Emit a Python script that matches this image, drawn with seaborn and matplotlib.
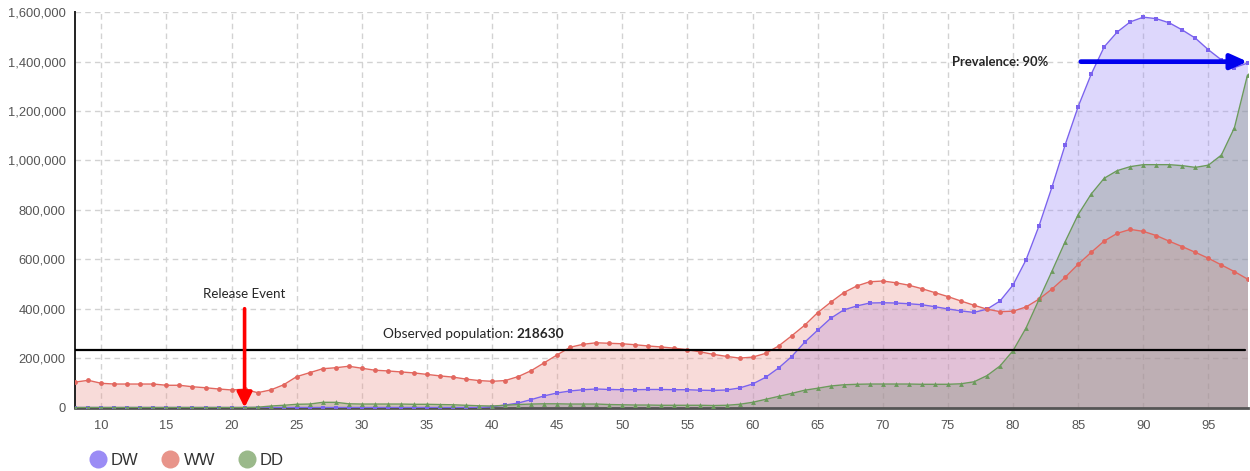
import matplotlib
matplotlib.use("Agg")
import matplotlib.pyplot as plt
import seaborn as sns
import pandas as pd
from matplotlib.lines import Line2D
from matplotlib.ticker import FuncFormatter, MultipleLocator

# x axis: days
days = list(range(8, 99))

dw = [0] * 32 + [
    3000, 10000, 18000, 32000, 47000, 59000, 67000, 72000, 75000, 73000,
    72000, 72000, 73000, 73000, 72000, 72000, 70000, 69000, 71000, 79000,
    95000, 122000, 160000, 206000, 264000, 313000, 361000, 395000, 411000, 423000,
    424000, 423000, 420000, 416000, 408000, 399000, 391000, 385000, 398000, 431000,
    496000, 598000, 736000, 894000, 1063000, 1218000, 1349000, 1460000, 1520000, 1561000,
    1580000, 1574000, 1557000, 1528000, 1495000, 1448000, 1407000, 1376000, 1394000,
]

ww = [
    103000, 110000, 98000, 95000, 95000, 95000, 95000, 90000, 90000, 84000,
    80000, 75000, 71000, 74000, 60000, 71000, 92000, 125000, 141000, 157000,
    161000, 167000, 159000, 151000, 148000, 144000, 140000, 134000, 128000, 123000,
    115000, 109000, 106000, 109000, 125000, 149000, 181000, 213000, 244000, 256000,
    262000, 260000, 258000, 254000, 249000, 245000, 240000, 234000, 225000, 215000,
    207000, 200000, 204000, 219000, 249000, 290000, 333000, 384000, 426000, 465000,
    492000, 509000, 512000, 505000, 495000, 481000, 465000, 449000, 431000, 414000,
    398000, 388000, 390000, 407000, 439000, 480000, 527000, 580000, 628000, 674000,
    705000, 721000, 713000, 696000, 673000, 651000, 628000, 604000, 577000, 550000,
    520000,
]

dd = [0] * 14 + [
    1000, 6000, 9000, 13000, 14000, 21000, 21000, 15000, 14000, 14000,
    14000, 14000, 13000, 13000, 12000, 11000, 9000, 7000, 6000, 9000,
    12000, 14000, 15000, 15000, 14000, 14000, 14000, 12000, 11000, 10000,
    10000, 9000, 9000, 9000, 9000, 8000, 9000, 13000, 21000, 33000,
    45000, 57000, 70000, 78000, 87000, 92000, 94000, 95000, 95000, 95000,
    95000, 94000, 94000, 94000, 96000, 104000, 129000, 168000, 230000, 322000,
    438000, 553000, 671000, 781000, 864000, 928000, 959000, 975000, 983000, 983000,
    983000, 979000, 972000, 981000, 1022000, 1133000, 1346000,
]

series_names = ["DW", "WW", "DD"]
observed_label = "218630"
observed_line_y = 233000
release_day = 21
prevalence_label = "Prevalence: 90%"
prevalence_y = 1400000
prevalence_start = 85.2

sns.set_style("white")
plt.rcParams["font.family"] = ["Liberation Sans", "DejaVu Sans"]

fig = plt.figure(figsize=(12.5, 4.71), dpi=100)
ax = fig.add_axes([0.0602, 0.1348, 0.9378, 0.8392])

styles = {
    "DW": dict(line="#7b63ee", fill="#9d8cf7", alpha=0.34, marker="s", legend="#9b8cf5"),
    "WW": dict(line="#e2675f", fill="#ec9a92", alpha=0.35, marker="o", legend="#e8948a"),
    "DD": dict(line="#6c9a5c", fill="#7d8f74", alpha=0.35, marker="^", legend="#9ab98a"),
}

for name, vals in zip(series_names, [dw, ww, dd]):
    st = styles[name]
    df = pd.DataFrame({"day": days, "count": vals})
    ax.fill_between(df["day"], 0, df["count"], color=st["fill"], alpha=st["alpha"], lw=0, zorder=1)
    sns.lineplot(data=df, x="day", y="count", ax=ax, color=st["line"], lw=1,
                 marker=st["marker"], markersize=3.5, markeredgewidth=0, zorder=3)

ax.set_xlim(8, 98)
ax.set_ylim(0, 1600000)
ax.yaxis.set_major_locator(MultipleLocator(200000))
ax.set_xticks(range(10, 98, 5))
ax.yaxis.set_major_formatter(FuncFormatter(lambda v, p: f"{int(v):,}"))
ax.set_xlabel("")
ax.set_ylabel("")
ax.grid(True, ls=(0, (4, 3)), color="#d2d2d2", lw=1)
ax.set_axisbelow(True)
for s in ["top", "right"]:
    ax.spines[s].set_visible(False)
ax.spines["left"].set_color("#222222")
ax.spines["left"].set_linewidth(1.4)
ax.spines["bottom"].set_color("#555555")
ax.spines["bottom"].set_linewidth(2)
ax.tick_params(axis="y", length=4, width=1, color="#999999", labelsize=9.3, labelcolor="#555555", pad=3)
ax.tick_params(axis="x", length=0, labelsize=9.3, labelcolor="#555555", pad=9)

ann_font = ["Lato", "DejaVu Sans"]

# observed population line
ax.plot([8, 97.8], [observed_line_y, observed_line_y], color="black", lw=1.6, zorder=4)
t1 = ax.text(31.6, 297000, "Observed population: ", ha="left", va="center",
             fontsize=9.8, family=ann_font, zorder=5)
ax.annotate(observed_label, xy=(1, 0), xycoords=t1, ha="left", va="bottom",
            fontsize=9.8, fontweight="bold", family=ann_font, zorder=5)

# release event arrow
ax.annotate("", xy=(release_day, 0), xytext=(release_day, 400000),
            arrowprops=dict(arrowstyle="-|>,head_width=0.45,head_length=0.9",
                            color="red", lw=2.6, shrinkA=0, shrinkB=0), zorder=5)
ax.text(release_day, 460000, "Release Event", ha="center", va="center",
        fontsize=9.6, family=ann_font)

# prevalence arrow
ax.annotate("", xy=(98, prevalence_y), xytext=(prevalence_start, prevalence_y),
            arrowprops=dict(arrowstyle="-|>,head_width=0.45,head_length=1.0",
                            color="#0000ee", lw=3.4, shrinkA=0, shrinkB=0),
            annotation_clip=False, zorder=5)
ax.text(82.7, prevalence_y, prevalence_label, ha="right", va="center",
        fontsize=9.4, fontweight="bold", family=ann_font)

handles = [Line2D([], [], ls="none", marker="o", markersize=13,
                  markerfacecolor=styles[n]["legend"], markeredgewidth=0) for n in series_names]
fig.legend(handles, series_names, loc="center left", bbox_to_anchor=(0.058, 0.022),
           ncol=3, frameon=False, fontsize=12, handletextpad=0.2, columnspacing=1.3,
           handlelength=1.2, labelcolor="#333333")

fig.savefig("out.png", dpi=100)
